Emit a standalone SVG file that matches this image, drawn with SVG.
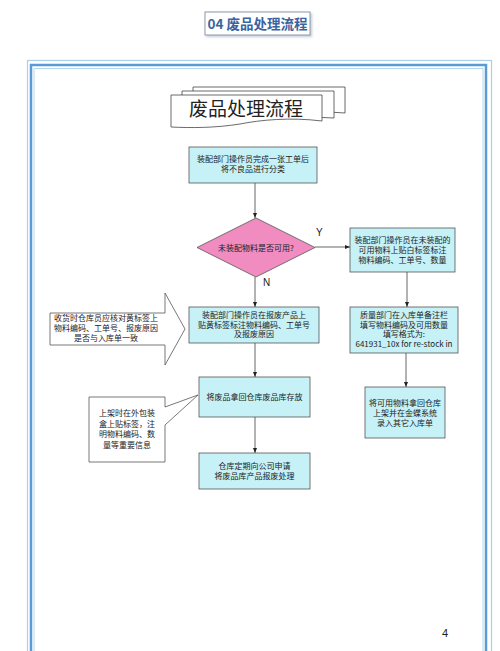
<svg xmlns="http://www.w3.org/2000/svg" width="500" height="651" viewBox="0 0 500 651">
<defs>
<style>
.box{fill:#c6f1f6;stroke:#555;stroke-width:0.8}
.t{font-family:"Noto Sans CJK SC","Noto Sans",sans-serif;font-size:8px;fill:#222;text-anchor:middle}
.ln{stroke:#555;stroke-width:0.9;fill:none}
.lab{font-family:"Liberation Sans",Arial,sans-serif;font-size:10px;fill:#222}
</style>
<marker id="ah" viewBox="0 0 10 10" refX="10" refY="5" markerWidth="5" markerHeight="5" orient="auto" markerUnits="userSpaceOnUse">
<path d="M0,1 L10,5 L0,9 z" fill="#222"/>
</marker>
<filter id="sh" x="-10%" y="-10%" width="130%" height="150%"><feDropShadow dx="1.5" dy="1.5" stdDeviation="1" flood-color="#9ab" flood-opacity="0.6"/></filter>
</defs>
<rect width="500" height="651" fill="#fff"/>
<g id="header">
<rect x="205" y="12" width="105" height="23" fill="#fff" stroke="#8a9aac" stroke-width="1" filter="url(#sh)"/>
<text x="257.5" y="29" font-family="Noto Sans CJK SC,sans-serif" font-size="13.5" font-weight="bold" fill="#3a64a0" text-anchor="middle">04 废品处理流程</text>
</g>
<g id="frame" fill="none">
<rect x="27.5" y="60.5" width="464" height="620" stroke="#a9cfe9" stroke-width="1.2"/>
<rect x="31" y="65" width="455" height="620" stroke="#5b9bd5" stroke-width="2.5"/>
<rect x="34" y="68.5" width="449" height="620" stroke="#b8d8ee" stroke-width="1"/>
</g>
<g id="doc-title">
<path d="M193,87 H345 V113 Q320,111 300,113 H193 Z" fill="#fff" stroke="#444" stroke-width="0.8"/>
<path d="M182,91 H334 V118 Q310,116 290,118 H182 Z" fill="#fff" stroke="#444" stroke-width="0.8"/>
<path d="M171,95 H322 V121 C290,117 260,120 240,124 C215,128 190,128 171,127 Z" fill="#fff" stroke="#444" stroke-width="0.8"/>
<text x="246" y="116" font-family="Noto Sans CJK SC,sans-serif" font-size="19" fill="#222" text-anchor="middle">废品处理流程</text>
</g>
<g id="connectors">
<line class="ln" x1="255" y1="183" x2="255" y2="218" marker-end="url(#ah)"/>
<line class="ln" x1="315" y1="247" x2="350" y2="247" marker-end="url(#ah)"/>
<line class="ln" x1="255" y1="277" x2="255" y2="307" marker-end="url(#ah)"/>
<line class="ln" x1="407" y1="272" x2="407" y2="307" marker-end="url(#ah)"/>
<line class="ln" x1="255" y1="343" x2="255" y2="377" marker-end="url(#ah)"/>
<line class="ln" x1="255" y1="417" x2="255" y2="453" marker-end="url(#ah)"/>
<line class="ln" x1="406" y1="353" x2="406" y2="387" marker-end="url(#ah)"/>
<text class="lab" x="316" y="236">Y</text>
<text class="lab" x="263" y="286">N</text>
</g>
<g id="n1">
<rect class="box" x="189" y="147" width="128" height="36"/>
<text class="t" x="253" y="162">装配部门操作员完成一张工单后</text>
<text class="t" x="253" y="172">将不良品进行分类</text>
</g>
<g id="decision">
<polygon points="256,218 315,247.5 256,277 197,247.5" fill="#f08cc0" stroke="#555" stroke-width="0.8"/>
<text class="t" x="256" y="250.5">未装配物料是否可用?</text>
</g>
<g id="n-right1">
<rect class="box" x="350" y="228" width="105" height="44"/>
<text class="t" x="402.5" y="243">装配部门操作员在未装配的</text>
<text class="t" x="402.5" y="253">可用物料上贴白标签标注</text>
<text class="t" x="402.5" y="263">物料编码、工单号、数量</text>
</g>
<g id="n-mid">
<rect class="box" x="189" y="307" width="130" height="36"/>
<text class="t" x="254" y="318">装配部门操作员在报废产品上</text>
<text class="t" x="254" y="327.5">贴黄标签标注物料编码、工单号</text>
<text class="t" x="254" y="337">及报废原因</text>
</g>
<g id="block-arrow">
<polygon points="50,313 165,313 165,293 185,329 165,365 165,345 50,345" fill="#fff" stroke="#555" stroke-width="0.8"/>
<text class="t" x="106" y="321">收货时仓库员应核对黄标签上</text>
<text class="t" x="106" y="331">物料编码、工单号、报废原因</text>
<text class="t" x="106" y="341">是否与入库单一致</text>
</g>
<g id="n-right2">
<rect class="box" x="350" y="307" width="108" height="46"/>
<text class="t" x="404" y="318">质量部门在入库单备注栏</text>
<text class="t" x="404" y="327.5">填写物料编码及可用数量</text>
<text class="t" x="404" y="337">填写格式为:</text>
<text class="t" x="404" y="347" font-family="Liberation Sans,Arial,sans-serif">641931_10x  for re-stock in</text>
</g>
<g id="n-store">
<rect class="box" x="199" y="377" width="111" height="40"/>
<text class="t" x="254.5" y="400">将废品拿回仓库废品库存放</text>
</g>
<g id="callout">
<path d="M89,397 H165 V407 L198,395 L165,425 V462 H89 Z" fill="#fff" stroke="#555" stroke-width="0.8"/>
<text class="t" x="127" y="416">上架时在外包装</text>
<text class="t" x="127" y="426.5">盒上贴标签，注</text>
<text class="t" x="127" y="437">明物料编码、数</text>
<text class="t" x="127" y="447.5">量等重要信息</text>
</g>
<g id="n-scrap">
<rect class="box" x="199" y="453" width="111" height="36"/>
<text class="t" x="254.5" y="469">仓库定期向公司申请</text>
<text class="t" x="254.5" y="479">将废品库产品报废处理</text>
</g>
<g id="n-right3">
<rect class="box" x="365" y="387" width="80" height="51"/>
<text class="t" x="405" y="406">将可用物料拿回仓库</text>
<text class="t" x="405" y="416">上架并在金蝶系统</text>
<text class="t" x="405" y="426">录入其它入库单</text>
</g>
<text x="445" y="637" font-family="Liberation Sans,Arial,sans-serif" font-size="11" fill="#222" text-anchor="middle">4</text>
</svg>
